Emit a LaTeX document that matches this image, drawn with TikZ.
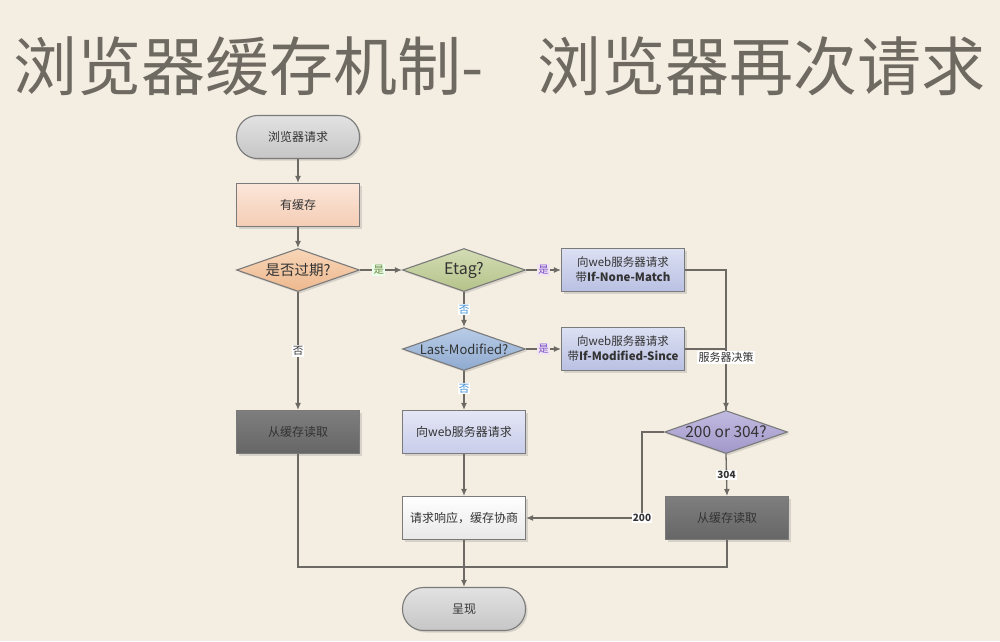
\documentclass[tikz,border=0pt]{standalone}
\usepackage{fontspec}
\setmainfont{Noto Sans CJK SC}
\usetikzlibrary{shapes.geometric,arrows.meta,shadows}
\definecolor{bgc}{HTML}{F4EEE2}
\definecolor{edgec}{HTML}{6D6A66}
\definecolor{bordc}{HTML}{7A7A7A}
\definecolor{txt}{HTML}{333333}
\definecolor{titlec}{HTML}{6E6A62}
\definecolor{termt}{HTML}{E2E2E2}
\definecolor{termb}{HTML}{C6C6C6}
\definecolor{cachet}{HTML}{FBE6D9}
\definecolor{cacheb}{HTML}{F4CDB5}
\definecolor{expt}{HTML}{F8D6B8}
\definecolor{expb}{HTML}{EDB88E}
\definecolor{etagt}{HTML}{D3DCB4}
\definecolor{etagb}{HTML}{B5C38A}
\definecolor{reqt}{HTML}{DCE0F3}
\definecolor{reqb}{HTML}{B9C0E2}
\definecolor{lmt}{HTML}{B8CCE6}
\definecolor{lmb}{HTML}{8FAAD0}
\definecolor{dect}{HTML}{C2BBE0}
\definecolor{decb}{HTML}{A198CA}
\definecolor{darkt}{HTML}{7E7E7E}
\definecolor{darkb}{HTML}{666666}
\definecolor{webt}{HTML}{E4E6F5}
\definecolor{webb}{HTML}{C8CDEA}
\definecolor{respb}{HTML}{E8E8E8}
\definecolor{yesg}{HTML}{6E8A3C}
\definecolor{yesp}{HTML}{7A50C8}
\definecolor{nob}{HTML}{3F8FD6}
\tikzset{
  base/.style={draw=bordc, line width=1.1pt, text=txt, minimum width=123pt, minimum height=43pt, inner sep=2pt, align=center,
    drop shadow={opacity=0.25, shadow xshift=2pt, shadow yshift=-2pt}},
  term/.style={base, rounded corners=21pt, top color=termt, bottom color=termb, font=\fontsize{12}{14}\selectfont},
  proc/.style={base, font=\fontsize{12}{14}\selectfont},
  proc2/.style={base, font=\fontsize{11.5}{15}\selectfont, top color=reqt, bottom color=reqb},
  dia/.style={base, diamond, aspect=2.9, minimum width=123pt, minimum height=43pt, inner sep=0pt},
  conn/.style={draw=edgec, line width=1.3pt},
  arr/.style={conn, -{Latex[length=7pt,width=6pt]}},
  lbl/.style={fill=white, inner sep=1.2pt, font=\fontsize{10.5}{11}\selectfont, text=txt},
  ttl/.style={inner sep=0, text=titlec, font=\fontsize{64}{70}\selectfont},
}
\begin{document}
\begin{tikzpicture}[x=1pt,y=-1pt]
\useasboundingbox (0,0) rectangle (1000,641);
\fill[bgc] (0,0) rectangle (1000,641);
% title
\node[ttl, anchor=base west] (t1) at (13,90) {浏览器缓存机制-};
\node[ttl, anchor=base east] (t2) at (986,90) {浏览器再次请求};

% nodes
\node[term] (start) at (298,137) {浏览器请求};
\node[proc, top color=cachet, bottom color=cacheb] (cache) at (298,205) {有缓存};
\node[dia, top color=expt, bottom color=expb, label={[text=txt, font=\fontsize{14.5}{16}\selectfont]center:是否过期?}] (exp) at (298,270) {};
\node[dia, top color=etagt, bottom color=etagb, label={[text=txt, font=\fontsize{16}{18}\selectfont]center:Etag?}] (etag) at (464,270) {};
\node[proc2] (inm) at (623,270) {向web服务器请求\\带\textbf{If-None-Match}};
\node[dia, top color=lmt, bottom color=lmb, label={[text=txt, font=\fontsize{13}{15}\selectfont]center:Last-Modified?}] (lm) at (464,349) {};
\node[proc2] (ims) at (623,349) {向web服务器请求\\带\textbf{If-Modified-Since}};
\node[dia, top color=dect, bottom color=decb, label={[text=txt, font=\fontsize{15.5}{18}\selectfont]center:200 or 304?}] (dec) at (726,432) {};
\node[proc, top color=darkt, bottom color=darkb] (lread) at (298,432) {从缓存读取};
\node[proc, top color=webt, bottom color=webb] (web) at (464,432) {向web服务器请求};
\node[proc, top color=white, bottom color=respb] (resp) at (464,518) {请求响应，缓存协商};
\node[proc, top color=darkt, bottom color=darkb] (rread) at (727,518) {从缓存读取};
\node[term] (show) at (464,609) {呈现};
\coordinate (merge) at (464,567);

% connectors
\draw[arr] (start) -- (cache);
\draw[arr] (cache) -- (exp);
\draw[arr] (exp.east) -- node[lbl, text=yesg, fill=green!8!white, pos=0.45]{是} (etag.west);
\draw[arr] (etag.east) -- node[lbl, text=yesp, fill=violet!10!white, pos=0.5]{是} (inm.west);
\draw[arr] (etag.south) -- node[lbl, text=nob, pos=0.5]{否} (lm.north);
\draw[arr] (lm.east) -- node[lbl, text=yesp, fill=violet!10!white, pos=0.5]{是} (ims.west);
\draw[arr] (lm.south) -- node[lbl, text=nob, pos=0.45]{否} (web.north);
\draw[arr] (exp.south) -- node[lbl, pos=0.5]{否} (lread.north);
\draw[arr] (inm.east) -| (dec.north);
\draw[conn] (ims.east) -| node[lbl, pos=0.57, font=\fontsize{11}{12}\selectfont]{服务器决策} (dec.north);
\draw[arr] (web) -- (resp);
\draw[arr] (dec.south) -- node[lbl, pos=0.5, font=\bfseries\fontsize{10}{11}\selectfont]{304} (rread.north);
\draw[arr] (dec.west) -- ++(-22,0) |- node[lbl, pos=0.5, font=\bfseries\fontsize{10}{11}\selectfont]{200} (resp.east);
\draw[conn] (lread.south) |- (merge);
\draw[conn] (rread.south) |- (merge);
\draw[arr] (resp) -- (show);
\end{tikzpicture}
\end{document}
